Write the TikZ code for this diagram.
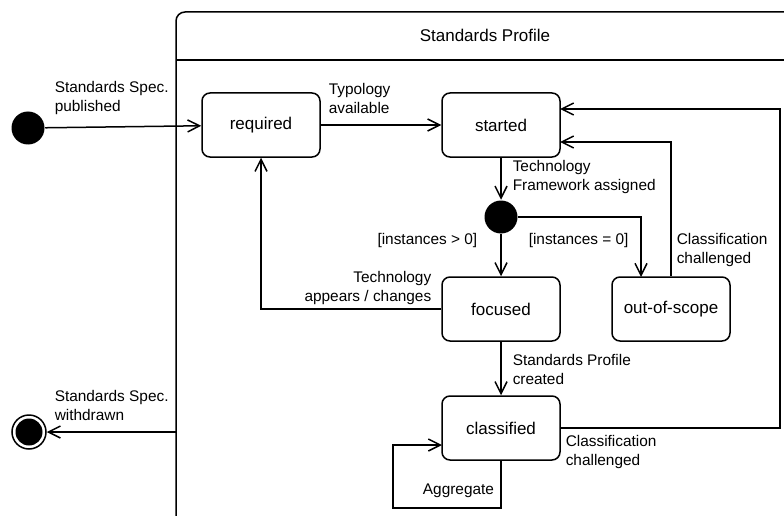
\documentclass[tikz,border=0pt]{standalone}
\usepackage{fontspec}
\setmainfont{Liberation Sans}
\usetikzlibrary{arrows.meta}

\begin{document}
\begin{tikzpicture}[x=1pt,y=-1pt,line width=1.5pt,
  state/.style={draw, rounded corners=8pt, minimum width=118pt, minimum height=64pt,
    inner sep=0pt, font=\fontsize{17}{20}\selectfont},
  lbl/.style={font=\fontsize{15.4}{19}\selectfont, align=left, inner sep=0pt},
  tr/.style={-{Straight Barb[length=12pt,width=12pt,line width=1.5pt]}},
  pseudo/.style={circle, fill=black, minimum size=33pt, inner sep=0pt}]

\useasboundingbox (0,0) rectangle (784,516);

% composite state frame (runs past the page on the right and bottom)
\begin{scope}
  \clip (0,0) rectangle (784,516);
  \draw[rounded corners=9pt] (176,540) -- (176,12) -- (820,12) -- (820,540);
  \draw (176,60) -- (820,60);
\end{scope}
\node[font=\fontsize{17}{20}\selectfont, inner sep=0pt] (title) at (485,35) {Standards Profile};

% states
\node[state] (req) at (261,125) {required};
\node[state] (start) at (501,125) {started};
\node[state] (foc) at (501,309) {focused};
\node[state] (oos) at (671,309) {out-of-scope};
\node[state] (cls) at (501,428) {classified};

% pseudostates
\node[pseudo] (init) at (28,128) {};
\node[pseudo] (dec) at (501,217) {};
\node[circle, draw, fill=white, minimum size=34pt, inner sep=0pt] (fin) at (29,432) {};
\fill (fin.center) circle[radius=13.5pt];

% helper points
\coordinate (stinA) at (560,109);
\coordinate (stinB) at (560,142);
\coordinate (rtBot) at (780,428);
\coordinate (rtTop) at (780,109);
\coordinate (oosIn) at (641,277);
\coordinate (loopA) at (501,508);
\coordinate (loopB) at (393,508);
\coordinate (loopC) at (393,445);
\coordinate (loopIn) at (442,445);
\coordinate (exitPt) at (176,432);

% transitions
\draw[tr] (init) -- (req);
\draw[tr] (req) -- (start);
\draw[tr] (start) -- (dec);
\draw[tr] (dec) -- (foc);
\draw[tr] (dec.east) -| (oosIn);
\draw[tr] (oos.north) |- (stinB);
\draw[tr] (cls.east) -- (rtBot) -- (rtTop) -- (stinA);
\draw[tr] (foc.west) -| (req.south);
\draw[tr] (foc) -- (cls);
\draw[tr] (cls.south) -- (loopA) -- (loopB) -- (loopC) -- (loopIn);
\draw[tr] (exitPt) -- (fin);

% transition labels
\node[lbl, anchor=west] (lPub) at (54,98.5) {Standards Spec.\\published};
\node[lbl, anchor=west] (lTyp) at (328,98.5) {Typology\\available};
\node[lbl, anchor=west] (lTfa) at (512,177.5) {Technology\\Framework assigned};
\node[lbl, anchor=east] (lGt) at (478,241) {[instances > 0]};
\node[lbl, anchor=west] (lEq) at (528,241) {[instances = 0]};
\node[lbl, anchor=west] (lCc1) at (676,250.5) {Classification\\challenged};
\node[lbl, anchor=east, align=right] (lApp) at (432,288.5) {Technology\\appears / changes};
\node[lbl, anchor=west] (lSpc) at (512,369.5) {Standards Profile\\created};
\node[lbl, anchor=west] (lCc2) at (565,452.5) {Classification\\challenged};
\node[lbl] (lAgg) at (458.5,491) {Aggregate};
\node[lbl, anchor=west] (lWd) at (54,405.5) {Standards Spec.\\withdrawn};
\end{tikzpicture}
\end{document}
